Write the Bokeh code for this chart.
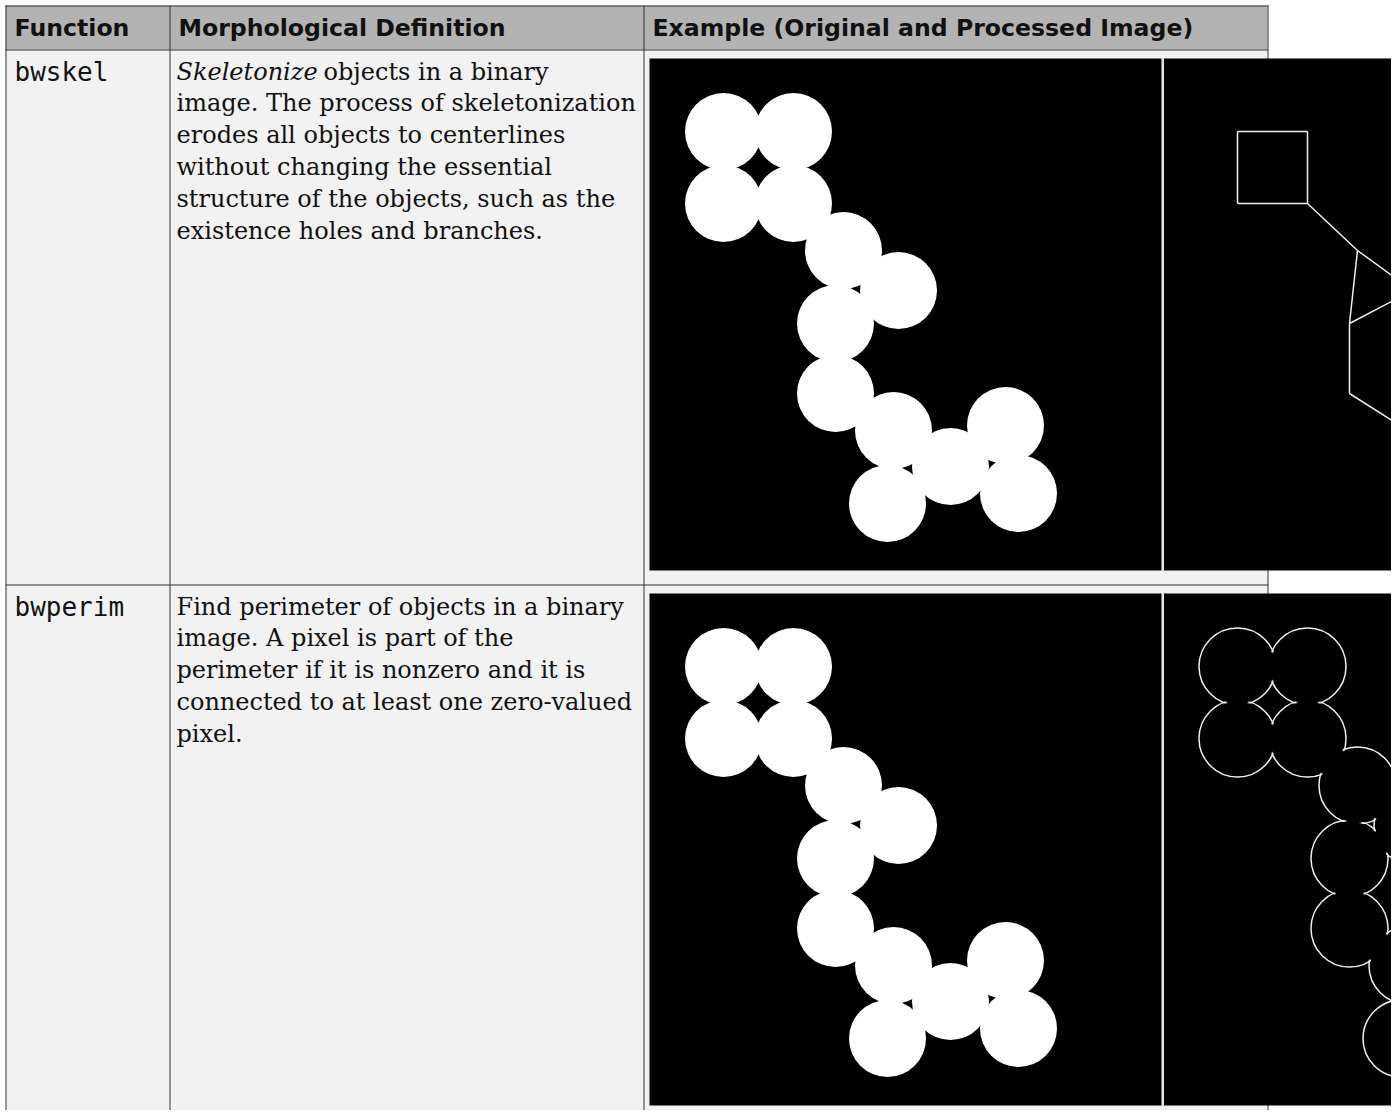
from bokeh.plotting import figure
from bokeh.models import Range1d
from bokeh.embed import file_html
from bokeh.resources import INLINE
from bokeh.core.properties import value

# ---------------- data ----------------
HEADERS = ["Function", "Morphological Definition", "Example (Original and Processed Image)"]
FUNCTIONS = ["bwskel", "bwperim"]
DEF_ITALIC = ["Skeletonize", ""]
DEF_LINES = [
    ["objects in a binary",
     "image. The process of skeletonization",
     "erodes all objects to centerlines",
     "without changing the essential",
     "structure of the objects, such as the",
     "existence holes and branches."],
    ["Find perimeter of objects in a binary",
     "image. A pixel is part of the",
     "perimeter if it is nonzero and it is",
     "connected to at least one zero-valued",
     "pixel."],
]
# binary test image: disks (pixel coordinates inside the 512x512 image)
DISK_X = [74, 144, 74, 144, 194, 249, 186, 186, 244, 356, 301, 238, 369]
DISK_Y = [73, 73, 145, 145, 192, 232, 265, 335, 372, 367, 408, 445, 435]
DISK_R = 38.5
# skeleton graph (edges between disk centres)
SKEL_A = [0, 1, 3, 2, 3, 4, 4, 5, 6, 7, 8, 10, 10, 9]
SKEL_B = [1, 3, 2, 0, 4, 5, 6, 6, 7, 8, 10, 9, 11, 12]

# ---------------- layout ----------------
W, H = 1391, 1110
TL, TR = 5, 1267
COLS = [169, 643]
HEAD_TOP, HEAD_BOT = 5, 49
ROW_TOPS = [49, 584]
IMG_SIZE = 512
IMG_X0 = 649
IMG2_X0 = 1163
IMG_DY = 9  # image top offset from row top

p = figure(width=W, height=H, x_range=Range1d(0, W), y_range=Range1d(H, 0),
           output_backend="svg", toolbar_location=None, min_border=0,
           background_fill_color="white", border_fill_color="white")
p.axis.visible = False
p.grid.visible = False
p.outline_line_color = None

BORDER = "#333333"
# cell backgrounds
p.quad(left=[TL], right=[TR], top=[HEAD_BOT], bottom=[H + 10], fill_color="#f2f2f2", line_color=None)
p.quad(left=[TL], right=[TR], top=[HEAD_TOP], bottom=[HEAD_BOT], fill_color="#b3b3b3", line_color=None)

# borders
hy = [HEAD_TOP + 0.5, HEAD_BOT + 0.5, ROW_TOPS[1] + 0.5]
p.segment(x0=[TL] * len(hy), x1=[TR + 1] * len(hy), y0=hy, y1=hy, line_color=BORDER, line_width=1)
vx = [TL + 0.5, COLS[0] + 0.5, COLS[1] + 0.5, TR + 0.5]
p.segment(x0=vx, x1=vx, y0=[HEAD_TOP] * len(vx), y1=[H + 10] * len(vx), line_color=BORDER, line_width=1)

for ri, rtop in enumerate(ROW_TOPS):
    iy0 = rtop + IMG_DY
    # original image
    p.quad(left=[IMG_X0], right=[IMG_X0 + IMG_SIZE], top=[iy0], bottom=[iy0 + IMG_SIZE],
           fill_color="black", line_color=None)
    p.circle(x=[IMG_X0 + v for v in DISK_X], y=[iy0 + v for v in DISK_Y], radius=DISK_R,
             fill_color="white", line_color=None)
    # processed image
    p.quad(left=[IMG2_X0], right=[IMG2_X0 + IMG_SIZE], top=[iy0], bottom=[iy0 + IMG_SIZE],
           fill_color="black", line_color=None)
    p.segment(x0=[IMG_X0 + IMG_SIZE + 1.5], x1=[IMG_X0 + IMG_SIZE + 1.5], y0=[iy0], y1=[iy0 + IMG_SIZE],
              line_color="#e6e6e6", line_width=2)
    if ri == 0:
        p.segment(x0=[IMG2_X0 + DISK_X[a] for a in SKEL_A], y0=[iy0 + DISK_Y[a] for a in SKEL_A],
                  x1=[IMG2_X0 + DISK_X[b] for b in SKEL_B], y1=[iy0 + DISK_Y[b] for b in SKEL_B],
                  line_color="#f0f0f0", line_width=1.5)
    else:
        p.circle(x=[IMG2_X0 + v for v in DISK_X], y=[iy0 + v for v in DISK_Y], radius=DISK_R,
                 fill_color=None, line_color="#f0f0f0", line_width=1.5)
        p.circle(x=[IMG2_X0 + v for v in DISK_X], y=[iy0 + v for v in DISK_Y], radius=DISK_R - 1.5,
                 fill_color="black", line_color=None)

# header texts
p.text(x=[14, 178, 652], y=[27] * 3, text=HEADERS, text_font=value("DejaVu Sans"),
       text_font_style="bold", text_font_size="23.6px", text_color="#111111",
       text_baseline="alphabetic", text_align="left")

LH = 31.8
for ri, rtop in enumerate(ROW_TOPS):
    base = rtop + 22
    p.text(x=[14], y=[base], text=[FUNCTIONS[ri]], text_font=value("DejaVu Sans Mono"),
           text_font_size="26px", text_color="#111111", text_baseline="alphabetic", text_align="left")
    lines = DEF_LINES[ri]
    xs = [176] * len(lines)
    if DEF_ITALIC[ri]:
        p.text(x=[176], y=[base], text=[DEF_ITALIC[ri]], text_font=value("DejaVu Serif"),
               text_font_style="italic", text_font_size="24px", text_color="#111111",
               text_baseline="alphabetic", text_align="left")
        xs[0] = 323
    p.text(x=xs, y=[base + i * LH for i in range(len(lines))], text=lines,
           text_font=value("DejaVu Serif"), text_font_size="24px", text_color="#111111",
           text_baseline="alphabetic", text_align="left")

open("out.html", "w").write(file_html(p, INLINE))
